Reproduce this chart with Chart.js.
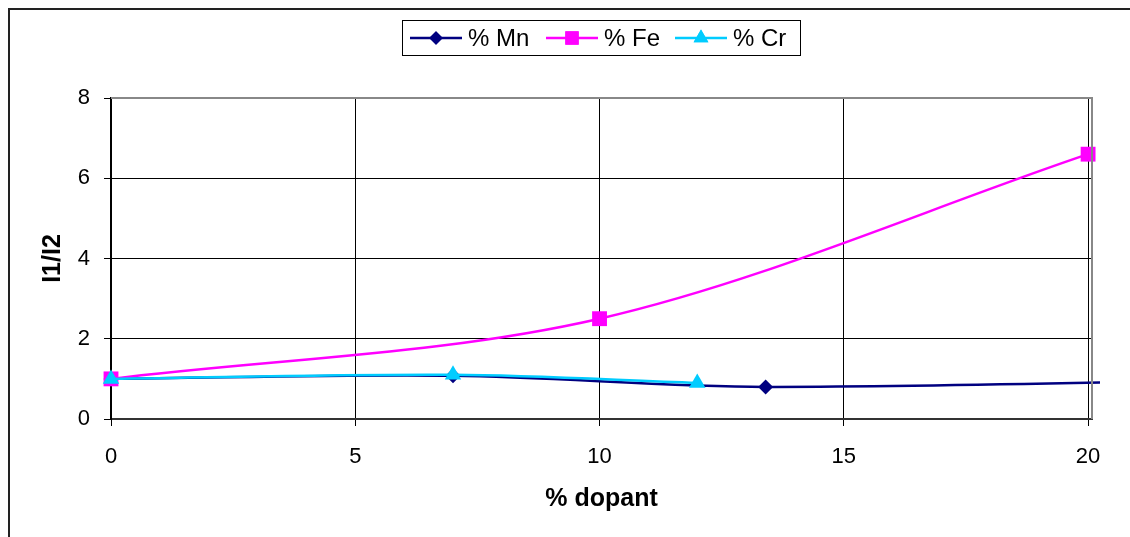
<!DOCTYPE html>
<html lang="en">
<head>
    <meta charset="UTF-8">
    <title>I1/I2 vs % dopant</title>
    <script src="https://cdn.jsdelivr.net/npm/chart.js"></script>
    <style>
        body { margin: 0; background: #fff; }
        canvas { display: block; }
    </style>
</head>
<body>
    <canvas id="dopantChart" width="1130" height="537"></canvas>

    <script>
        // --- DATA ---
        const xTicks = [0, 5, 10, 15, 20];
        const yTicks = [0, 2, 4, 6, 8];

        const mnX = [0, 7, 13.4, 26];
        const mnY = [1.0, 1.08, 0.8, 1.05];

        const feX = [0, 10, 20];
        const feY = [1.0, 2.5, 6.6];

        const crX = [0, 7, 12];
        const crY = [1.0, 1.1, 0.9];

        const FONT = '"Liberation Sans", Arial, sans-serif';

        const series = [
            { label: '% Mn', xs: mnX, ys: mnY, color: '#000080', style: 'rectRot', radius: 7.5, order: 2 },
            { label: '% Fe', xs: feX, ys: feY, color: '#FF00FF', style: 'rect', radius: 10.5, order: 1 },
            { label: '% Cr', xs: crX, ys: crY, color: '#00CCFF', style: 'triangle', radius: 9.5, order: 0 }
        ];

        // outer frame, plot border and the boxed legend
        const decorations = {
            id: 'decorations',
            beforeDraw(chart) {
                const ctx = chart.ctx;
                ctx.save();
                ctx.strokeStyle = '#222';
                ctx.lineWidth = 2;
                ctx.strokeRect(9, 9, 1300, 700);
                ctx.restore();
            },
            afterDatasetsDraw(chart) {
                const ctx = chart.ctx;
                const a = chart.chartArea;
                ctx.save();
                ctx.strokeStyle = '#888';
                ctx.lineWidth = 2;
                ctx.beginPath();
                ctx.moveTo(a.left, a.top);
                ctx.lineTo(a.right, a.top);
                ctx.lineTo(a.right, a.bottom);
                ctx.stroke();
                ctx.restore();
            },
            afterDraw(chart) {
                const ctx = chart.ctx;
                ctx.save();
                ctx.strokeStyle = '#000';
                ctx.lineWidth = 1;
                ctx.strokeRect(402.5, 20.5, 398, 35);
                const cy = 38;
                const starts = [410, 546, 675];
                ctx.font = '24px ' + FONT;
                ctx.textBaseline = 'middle';
                series.forEach((s, i) => {
                    const x0 = starts[i];
                    ctx.strokeStyle = s.color;
                    ctx.lineWidth = 2.5;
                    ctx.beginPath();
                    ctx.moveTo(x0, cy);
                    ctx.lineTo(x0 + 52, cy);
                    ctx.stroke();
                    ctx.fillStyle = s.color;
                    Chart.helpers.drawPoint(ctx, {
                        pointStyle: s.style, radius: s.radius * 0.9, rotation: 0, borderWidth: 0
                    }, x0 + 26, cy);
                    ctx.fill();
                    ctx.fillStyle = '#000';
                    ctx.fillText(s.label, x0 + 58, cy + 1);
                });
                ctx.restore();
            }
        };

        const datasets = series.map(s => ({
            label: s.label,
            data: s.xs.map((x, i) => ({ x: x, y: s.ys[i] })),
            borderColor: s.color,
            backgroundColor: s.color,
            borderWidth: 2.5,
            pointStyle: s.style,
            pointRadius: s.radius,
            pointHoverRadius: s.radius,
            pointBorderWidth: 0,
            tension: 0.33,
            order: s.order,
            clip: { left: 10, top: 10, right: 8, bottom: 10 }
        }));

        new Chart(document.getElementById('dopantChart'), {
            type: 'scatter',
            data: { datasets: datasets },
            plugins: [decorations],
            options: {
                responsive: false,
                animation: false,
                showLine: true,
                layout: { padding: { left: 0, top: 98, right: 38, bottom: 0 } },
                plugins: {
                    legend: { display: false },
                    tooltip: { enabled: false }
                },
                scales: {
                    x: {
                        type: 'linear',
                        min: 0,
                        max: 20.08,
                        afterBuildTicks: s => { s.ticks = xTicks.map(v => ({ value: v })); },
                        afterFit: s => { s.height = 118; },
                        grid: { color: '#000', lineWidth: 1, tickLength: 7, tickColor: '#000' },
                        border: { color: '#333', width: 2 },
                        ticks: { color: '#000', padding: 18, font: { family: FONT, size: 22 } },
                        title: {
                            display: true, text: '% dopant', color: '#000',
                            padding: { top: 0, bottom: 23 },
                            font: { family: FONT, size: 25, weight: 'bold' }
                        }
                    },
                    y: {
                        min: 0,
                        max: 8,
                        afterBuildTicks: s => { s.ticks = yTicks.map(v => ({ value: v })); },
                        afterFit: s => { s.width = 111; },
                        grid: { color: '#000', lineWidth: 1, tickLength: 7, tickColor: '#000' },
                        border: { color: '#000', width: 2 },
                        ticks: { color: '#000', padding: 14, font: { family: FONT, size: 22 } },
                        title: {
                            display: true, text: 'I1/I2', color: '#000',
                            padding: { top: 38, bottom: 0 },
                            font: { family: FONT, size: 25, weight: 'bold' }
                        }
                    }
                }
            }
        });
    </script>
</body>
</html>
